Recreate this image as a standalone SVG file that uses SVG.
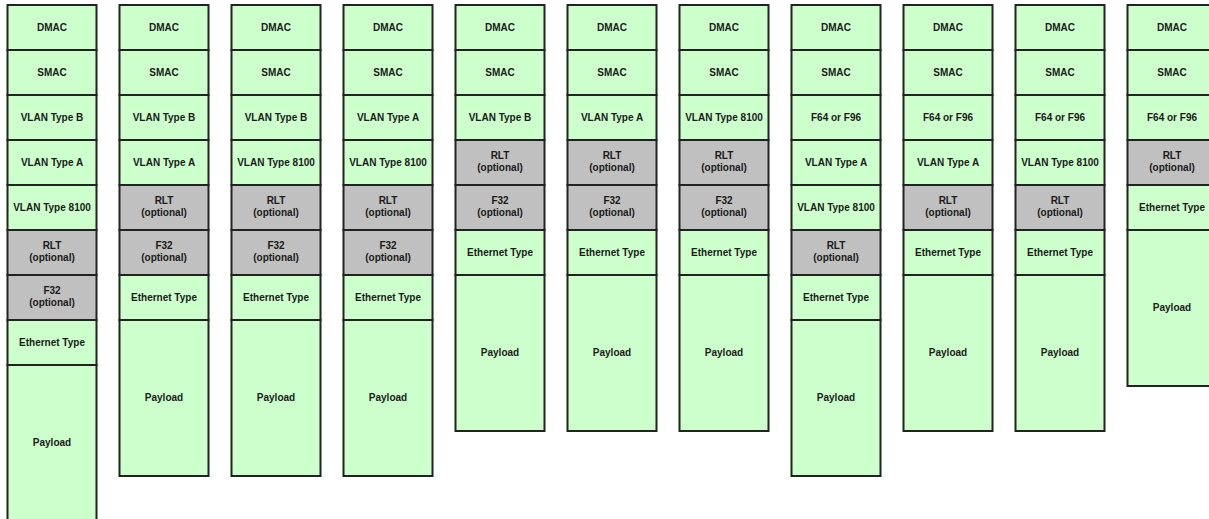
<svg xmlns="http://www.w3.org/2000/svg" width="1209" height="519" viewBox="0 0 1209 519">
<style>
.g{fill:#ccffcc;stroke:#222;stroke-width:2}
.o{fill:#c0c0c0;stroke:#222;stroke-width:2}
text{font-family:"Liberation Sans",Arial,sans-serif;font-size:10px;font-weight:bold;fill:#1a1a1a;text-anchor:middle}
</style>
<rect width="1209" height="519" fill="#fff"/>
<!-- Column 1 -->
<g id="col1">
<g id="c1-dmac"><rect class="g" x="7.5" y="5" width="89" height="45"/><text x="52" y="31">DMAC</text></g>
<g id="c1-smac"><rect class="g" x="7.5" y="50" width="89" height="45"/><text x="52" y="76">SMAC</text></g>
<g id="c1-vb"><rect class="g" x="7.5" y="95" width="89" height="45"/><text x="52" y="121">VLAN Type B</text></g>
<g id="c1-va"><rect class="g" x="7.5" y="140" width="89" height="45"/><text x="52" y="166">VLAN Type A</text></g>
<g id="c1-v8100"><rect class="g" x="7.5" y="185" width="89" height="45"/><text x="52" y="211">VLAN Type 8100</text></g>
<g id="c1-rlt"><rect class="o" x="7.5" y="230" width="89" height="45"/><text x="52" y="249">RLT</text><text x="52" y="261">(optional)</text></g>
<g id="c1-f32"><rect class="o" x="7.5" y="275" width="89" height="45"/><text x="52" y="294">F32</text><text x="52" y="306">(optional)</text></g>
<g id="c1-eth"><rect class="g" x="7.5" y="320" width="89" height="45"/><text x="52" y="346">Ethernet Type</text></g>
<g id="c1-pay"><rect class="g" x="7.5" y="365" width="89" height="156"/><text x="52" y="446">Payload</text></g>
</g>
<!-- Column 2 -->
<g id="col2">
<g id="c2-dmac"><rect class="g" x="119.5" y="5" width="89" height="45"/><text x="164" y="31">DMAC</text></g>
<g id="c2-smac"><rect class="g" x="119.5" y="50" width="89" height="45"/><text x="164" y="76">SMAC</text></g>
<g id="c2-vb"><rect class="g" x="119.5" y="95" width="89" height="45"/><text x="164" y="121">VLAN Type B</text></g>
<g id="c2-va"><rect class="g" x="119.5" y="140" width="89" height="45"/><text x="164" y="166">VLAN Type A</text></g>
<g id="c2-rlt"><rect class="o" x="119.5" y="185" width="89" height="45"/><text x="164" y="204">RLT</text><text x="164" y="216">(optional)</text></g>
<g id="c2-f32"><rect class="o" x="119.5" y="230" width="89" height="45"/><text x="164" y="249">F32</text><text x="164" y="261">(optional)</text></g>
<g id="c2-eth"><rect class="g" x="119.5" y="275" width="89" height="45"/><text x="164" y="301">Ethernet Type</text></g>
<g id="c2-pay"><rect class="g" x="119.5" y="320" width="89" height="156"/><text x="164" y="401">Payload</text></g>
</g>
<!-- Column 3 -->
<g id="col3">
<g id="c3-dmac"><rect class="g" x="231.5" y="5" width="89" height="45"/><text x="276" y="31">DMAC</text></g>
<g id="c3-smac"><rect class="g" x="231.5" y="50" width="89" height="45"/><text x="276" y="76">SMAC</text></g>
<g id="c3-vb"><rect class="g" x="231.5" y="95" width="89" height="45"/><text x="276" y="121">VLAN Type B</text></g>
<g id="c3-v8100"><rect class="g" x="231.5" y="140" width="89" height="45"/><text x="276" y="166">VLAN Type 8100</text></g>
<g id="c3-rlt"><rect class="o" x="231.5" y="185" width="89" height="45"/><text x="276" y="204">RLT</text><text x="276" y="216">(optional)</text></g>
<g id="c3-f32"><rect class="o" x="231.5" y="230" width="89" height="45"/><text x="276" y="249">F32</text><text x="276" y="261">(optional)</text></g>
<g id="c3-eth"><rect class="g" x="231.5" y="275" width="89" height="45"/><text x="276" y="301">Ethernet Type</text></g>
<g id="c3-pay"><rect class="g" x="231.5" y="320" width="89" height="156"/><text x="276" y="401">Payload</text></g>
</g>
<!-- Column 4 -->
<g id="col4">
<g id="c4-dmac"><rect class="g" x="343.5" y="5" width="89" height="45"/><text x="388" y="31">DMAC</text></g>
<g id="c4-smac"><rect class="g" x="343.5" y="50" width="89" height="45"/><text x="388" y="76">SMAC</text></g>
<g id="c4-va"><rect class="g" x="343.5" y="95" width="89" height="45"/><text x="388" y="121">VLAN Type A</text></g>
<g id="c4-v8100"><rect class="g" x="343.5" y="140" width="89" height="45"/><text x="388" y="166">VLAN Type 8100</text></g>
<g id="c4-rlt"><rect class="o" x="343.5" y="185" width="89" height="45"/><text x="388" y="204">RLT</text><text x="388" y="216">(optional)</text></g>
<g id="c4-f32"><rect class="o" x="343.5" y="230" width="89" height="45"/><text x="388" y="249">F32</text><text x="388" y="261">(optional)</text></g>
<g id="c4-eth"><rect class="g" x="343.5" y="275" width="89" height="45"/><text x="388" y="301">Ethernet Type</text></g>
<g id="c4-pay"><rect class="g" x="343.5" y="320" width="89" height="156"/><text x="388" y="401">Payload</text></g>
</g>
<!-- Column 5 -->
<g id="col5">
<g id="c5-dmac"><rect class="g" x="455.5" y="5" width="89" height="45"/><text x="500" y="31">DMAC</text></g>
<g id="c5-smac"><rect class="g" x="455.5" y="50" width="89" height="45"/><text x="500" y="76">SMAC</text></g>
<g id="c5-vb"><rect class="g" x="455.5" y="95" width="89" height="45"/><text x="500" y="121">VLAN Type B</text></g>
<g id="c5-rlt"><rect class="o" x="455.5" y="140" width="89" height="45"/><text x="500" y="159">RLT</text><text x="500" y="171">(optional)</text></g>
<g id="c5-f32"><rect class="o" x="455.5" y="185" width="89" height="45"/><text x="500" y="204">F32</text><text x="500" y="216">(optional)</text></g>
<g id="c5-eth"><rect class="g" x="455.5" y="230" width="89" height="45"/><text x="500" y="256">Ethernet Type</text></g>
<g id="c5-pay"><rect class="g" x="455.5" y="275" width="89" height="156"/><text x="500" y="356">Payload</text></g>
</g>
<!-- Column 6 -->
<g id="col6">
<g id="c6-dmac"><rect class="g" x="567.5" y="5" width="89" height="45"/><text x="612" y="31">DMAC</text></g>
<g id="c6-smac"><rect class="g" x="567.5" y="50" width="89" height="45"/><text x="612" y="76">SMAC</text></g>
<g id="c6-va"><rect class="g" x="567.5" y="95" width="89" height="45"/><text x="612" y="121">VLAN Type A</text></g>
<g id="c6-rlt"><rect class="o" x="567.5" y="140" width="89" height="45"/><text x="612" y="159">RLT</text><text x="612" y="171">(optional)</text></g>
<g id="c6-f32"><rect class="o" x="567.5" y="185" width="89" height="45"/><text x="612" y="204">F32</text><text x="612" y="216">(optional)</text></g>
<g id="c6-eth"><rect class="g" x="567.5" y="230" width="89" height="45"/><text x="612" y="256">Ethernet Type</text></g>
<g id="c6-pay"><rect class="g" x="567.5" y="275" width="89" height="156"/><text x="612" y="356">Payload</text></g>
</g>
<!-- Column 7 -->
<g id="col7">
<g id="c7-dmac"><rect class="g" x="679.5" y="5" width="89" height="45"/><text x="724" y="31">DMAC</text></g>
<g id="c7-smac"><rect class="g" x="679.5" y="50" width="89" height="45"/><text x="724" y="76">SMAC</text></g>
<g id="c7-v8100"><rect class="g" x="679.5" y="95" width="89" height="45"/><text x="724" y="121">VLAN Type 8100</text></g>
<g id="c7-rlt"><rect class="o" x="679.5" y="140" width="89" height="45"/><text x="724" y="159">RLT</text><text x="724" y="171">(optional)</text></g>
<g id="c7-f32"><rect class="o" x="679.5" y="185" width="89" height="45"/><text x="724" y="204">F32</text><text x="724" y="216">(optional)</text></g>
<g id="c7-eth"><rect class="g" x="679.5" y="230" width="89" height="45"/><text x="724" y="256">Ethernet Type</text></g>
<g id="c7-pay"><rect class="g" x="679.5" y="275" width="89" height="156"/><text x="724" y="356">Payload</text></g>
</g>
<!-- Column 8 -->
<g id="col8">
<g id="c8-dmac"><rect class="g" x="791.5" y="5" width="89" height="45"/><text x="836" y="31">DMAC</text></g>
<g id="c8-smac"><rect class="g" x="791.5" y="50" width="89" height="45"/><text x="836" y="76">SMAC</text></g>
<g id="c8-f64"><rect class="g" x="791.5" y="95" width="89" height="45"/><text x="836" y="121">F64 or F96</text></g>
<g id="c8-va"><rect class="g" x="791.5" y="140" width="89" height="45"/><text x="836" y="166">VLAN Type A</text></g>
<g id="c8-v8100"><rect class="g" x="791.5" y="185" width="89" height="45"/><text x="836" y="211">VLAN Type 8100</text></g>
<g id="c8-rlt"><rect class="o" x="791.5" y="230" width="89" height="45"/><text x="836" y="249">RLT</text><text x="836" y="261">(optional)</text></g>
<g id="c8-eth"><rect class="g" x="791.5" y="275" width="89" height="45"/><text x="836" y="301">Ethernet Type</text></g>
<g id="c8-pay"><rect class="g" x="791.5" y="320" width="89" height="156"/><text x="836" y="401">Payload</text></g>
</g>
<!-- Column 9 -->
<g id="col9">
<g id="c9-dmac"><rect class="g" x="903.5" y="5" width="89" height="45"/><text x="948" y="31">DMAC</text></g>
<g id="c9-smac"><rect class="g" x="903.5" y="50" width="89" height="45"/><text x="948" y="76">SMAC</text></g>
<g id="c9-f64"><rect class="g" x="903.5" y="95" width="89" height="45"/><text x="948" y="121">F64 or F96</text></g>
<g id="c9-va"><rect class="g" x="903.5" y="140" width="89" height="45"/><text x="948" y="166">VLAN Type A</text></g>
<g id="c9-rlt"><rect class="o" x="903.5" y="185" width="89" height="45"/><text x="948" y="204">RLT</text><text x="948" y="216">(optional)</text></g>
<g id="c9-eth"><rect class="g" x="903.5" y="230" width="89" height="45"/><text x="948" y="256">Ethernet Type</text></g>
<g id="c9-pay"><rect class="g" x="903.5" y="275" width="89" height="156"/><text x="948" y="356">Payload</text></g>
</g>
<!-- Column 10 -->
<g id="col10">
<g id="c10-dmac"><rect class="g" x="1015.5" y="5" width="89" height="45"/><text x="1060" y="31">DMAC</text></g>
<g id="c10-smac"><rect class="g" x="1015.5" y="50" width="89" height="45"/><text x="1060" y="76">SMAC</text></g>
<g id="c10-f64"><rect class="g" x="1015.5" y="95" width="89" height="45"/><text x="1060" y="121">F64 or F96</text></g>
<g id="c10-v8100"><rect class="g" x="1015.5" y="140" width="89" height="45"/><text x="1060" y="166">VLAN Type 8100</text></g>
<g id="c10-rlt"><rect class="o" x="1015.5" y="185" width="89" height="45"/><text x="1060" y="204">RLT</text><text x="1060" y="216">(optional)</text></g>
<g id="c10-eth"><rect class="g" x="1015.5" y="230" width="89" height="45"/><text x="1060" y="256">Ethernet Type</text></g>
<g id="c10-pay"><rect class="g" x="1015.5" y="275" width="89" height="156"/><text x="1060" y="356">Payload</text></g>
</g>
<!-- Column 11 -->
<g id="col11">
<g id="c11-dmac"><rect class="g" x="1127.5" y="5" width="89" height="45"/><text x="1172" y="31">DMAC</text></g>
<g id="c11-smac"><rect class="g" x="1127.5" y="50" width="89" height="45"/><text x="1172" y="76">SMAC</text></g>
<g id="c11-f64"><rect class="g" x="1127.5" y="95" width="89" height="45"/><text x="1172" y="121">F64 or F96</text></g>
<g id="c11-rlt"><rect class="o" x="1127.5" y="140" width="89" height="45"/><text x="1172" y="159">RLT</text><text x="1172" y="171">(optional)</text></g>
<g id="c11-eth"><rect class="g" x="1127.5" y="185" width="89" height="45"/><text x="1172" y="211">Ethernet Type</text></g>
<g id="c11-pay"><rect class="g" x="1127.5" y="230" width="89" height="156"/><text x="1172" y="311">Payload</text></g>
</g>
</svg>
